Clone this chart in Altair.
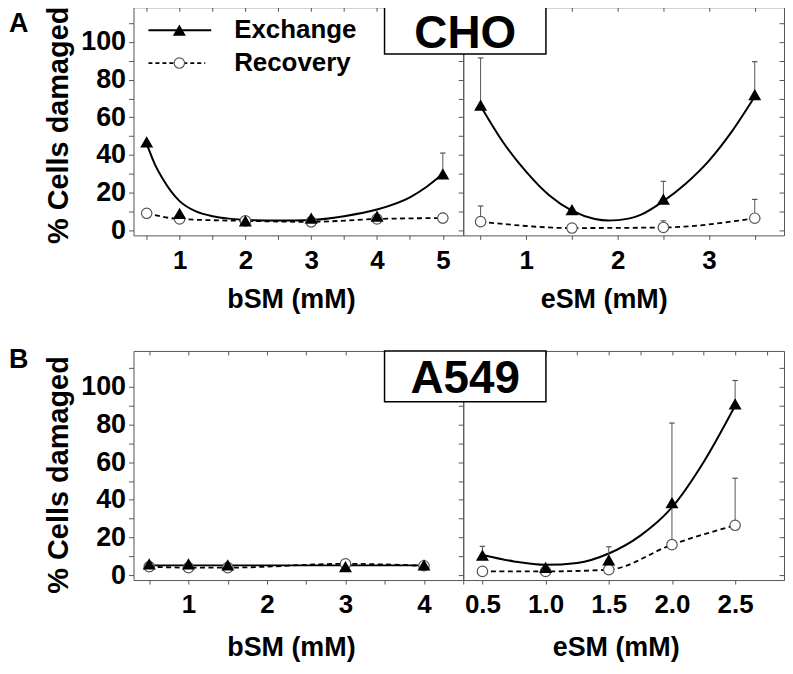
import altair as alt
import pandas as pd

# ---------------- data ----------------
# Panel A, CHO cells, bSM
cho_bsm_x        = [0.5, 1, 2, 3, 4, 5]
cho_bsm_exch     = [47, 9, 5, 6.5, 7.5, 30]
cho_bsm_exch_err = [0, 0, 0, 0, 0, 11]
cho_bsm_rec      = [9, 6, 5, 4.5, 6, 6.5]
cho_bsm_rec_err  = [0, 0, 0, 0, 0, 2.5]
cho_bsm_fit_x    = [0.5, 0.625, 0.75, 1.0, 1.25, 1.5, 1.75, 2.0, 2.5, 3.0, 3.5, 4.0, 4.5, 4.75, 5.0]
cho_bsm_fit_y    = [46, 35, 27, 15.5, 10, 7.5, 6.2, 5.5, 5.2, 5.5, 7.5, 11, 17.5, 23, 30]

# Panel A, CHO cells, eSM
cho_esm_x        = [0.5, 1.5, 2.5, 3.5]
cho_esm_exch     = [66.5, 11, 16.5, 72]
cho_esm_exch_err = [25, 0, 9.5, 17.5]
cho_esm_rec      = [4.6, 1.2, 1.5, 6.4]
cho_esm_rec_err  = [8.3, 0, 3.5, 10]
cho_esm_fit_x    = [0.5, 0.75, 1.0, 1.25, 1.5, 1.75, 1.9, 2.0, 2.25, 2.5, 2.75, 3.0, 3.25, 3.5]
cho_esm_fit_y    = [66, 46.5, 31, 18.6, 10.4, 6, 5.2, 5.4, 8.2, 15.5, 25, 37, 52.5, 71]

# Panel B, A549 cells, bSM
a549_bsm_x        = [0.5, 1, 1.5, 3, 4]
a549_bsm_exch     = [6, 6, 5.5, 4.6, 5.5]
a549_bsm_exch_err = [0, 0, 0, 0, 0]
a549_bsm_rec      = [4.5, 4, 4, 6, 5]
a549_bsm_rec_err  = [0, 0, 0, 0, 0]
a549_bsm_fit_x    = [0.5, 4]
a549_bsm_fit_y    = [5.2, 5.2]

# Panel B, A549 cells, eSM
a549_esm_x        = [0.5, 1.0, 1.5, 2.0, 2.5]
a549_esm_exch     = [10.7, 4.1, 8.1, 38.5, 91]
a549_esm_exch_err = [4.6, 0, 7, 42.3, 12.4]
a549_esm_rec      = [2, 2, 2.9, 16.2, 26.5]
a549_esm_rec_err  = [0, 0, 0, 22, 25]
a549_esm_fit_x    = [0.5, 0.75, 1.0, 1.25, 1.5, 1.75, 2.0, 2.25, 2.5]
a549_esm_fit_y    = [10.7, 7.3, 5.5, 6.5, 11.5, 21, 36, 60, 90]

legend_labels = ["Exchange", "Recovery"]
panel_letters = ["A", "B"]
cell_lines = ["CHO", "A549"]
y_title = "% Cells damaged"
y_ticks = list(range(0, 111, 10))

FONT = "Liberation Sans"
GRAY = "#555555"
ONE = alt.Data(values=[{"k": 1}])


def txt(s, x, y, size, align="left"):
    return alt.Chart(ONE).mark_text(
        text=s, font=FONT, fontWeight="bold", fontSize=size, color="black",
        align=align, baseline="middle"
    ).encode(x=alt.value(x), y=alt.value(y))


def panel(x, exch, exch_err, rec, rec_err, fit_x, fit_y, xdom, ydom, w, h,
          bottom_vals, label_vals, fmt, top_vals, xtitle, title_x, title_pad,
          show_y, title_y, extras):
    pts = pd.DataFrame({"x": x, "exch": exch, "rec": rec})
    rows = []
    for xi, v, e in zip(x, exch, exch_err):
        if e > 0:
            rows.append({"x": xi, "lo": v, "hi": v + e})
    for xi, v, e in zip(x, rec, rec_err):
        if e > 0:
            rows.append({"x": xi, "lo": v, "hi": v + e})
    err = pd.DataFrame(rows, columns=["x", "lo", "hi"])
    fit = pd.DataFrame({"x": fit_x, "y": fit_y})

    xs = alt.Scale(domain=xdom, nice=False, zero=False)
    ys = alt.Scale(domain=ydom, nice=False, zero=False)
    lab = ",".join(str(v) for v in label_vals)
    x_bottom = alt.Axis(
        orient="bottom", values=bottom_vals, format=fmt,
        labelExpr=f"indexof([{lab}], datum.value) >= 0 ? datum.label : ''",
        tickSize=4, labelPadding=8, title=xtitle, titleX=title_x,
        titlePadding=title_pad)
    if show_y:
        y_left = alt.Axis(
            orient="left", values=y_ticks,
            labelExpr="datum.value % 20 === 0 ? datum.label : ''",
            tickSize=5, labelPadding=3, labelFontSize=27,
            title=y_title, titleFontSize=29, titlePadding=7, titleY=title_y)
    else:
        y_left = None
    x_top = alt.Axis(orient="top", values=top_vals, labels=False, title=None,
                     tickSize=4, offset=-4)
    y_right = alt.Axis(orient="right", values=y_ticks, labels=False,
                       title=None, tickSize=5, offset=-5)

    fit_line = alt.Chart(fit).mark_line(
        color="black", strokeWidth=2, interpolate="monotone"
    ).encode(x=alt.X("x:Q", scale=xs, axis=x_bottom),
             y=alt.Y("y:Q", scale=ys, axis=y_left))
    rec_line = alt.Chart(pts).mark_line(
        color="black", strokeWidth=1.8, strokeDash=[5, 3.5], interpolate="monotone"
    ).encode(x=alt.X("x:Q", scale=xs, axis=x_top),
             y=alt.Y("rec:Q", scale=ys, axis=y_right))
    rules = alt.Chart(err).mark_rule(color=GRAY, strokeWidth=1).encode(
        x=alt.X("x:Q", scale=xs, axis=None),
        y=alt.Y("lo:Q", scale=ys, axis=None), y2="hi:Q")
    caps = alt.Chart(err).mark_point(
        shape="stroke", size=30, color=GRAY, strokeWidth=1.2, opacity=1
    ).encode(x=alt.X("x:Q", scale=xs, axis=None),
             y=alt.Y("hi:Q", scale=ys, axis=None))
    rec_pts = alt.Chart(pts).mark_point(
        shape="circle", size=110, filled=True, fill="white", stroke=GRAY,
        strokeWidth=1.2, opacity=1
    ).encode(x=alt.X("x:Q", scale=xs, axis=None),
             y=alt.Y("rec:Q", scale=ys, axis=None))
    exch_pts = alt.Chart(pts).mark_point(
        shape="triangle-up", size=170, filled=True, color="black", opacity=1
    ).encode(x=alt.X("x:Q", scale=xs, axis=None),
             y=alt.Y("exch:Q", scale=ys, axis=None))

    return alt.layer(fit_line, rec_line, rules, caps, rec_pts, exch_pts,
                     *extras).resolve_axis(x="independent", y="independent"
                     ).properties(width=w, height=h)


def box(label, x1, x2, y1, y2):
    rect = alt.Chart(ONE).mark_rect(fill="white", stroke="black",
                                    strokeWidth=1.5).encode(
        x=alt.value(x1), x2=alt.value(x2), y=alt.value(y1), y2=alt.value(y2))
    return [rect, txt(label, (x1 + x2) / 2, (y1 + y2) / 2 + 3, 46, "center")]


legend = [
    alt.Chart(ONE).mark_rule(color="black", strokeWidth=2).encode(
        x=alt.value(15), x2=alt.value(78), y=alt.value(23)),
    alt.Chart(ONE).mark_point(shape="triangle-up", size=170, filled=True,
                              color="black", opacity=1).encode(
        x=alt.value(46), y=alt.value(23)),
    alt.Chart(ONE).mark_rule(color="black", strokeWidth=1.8,
                             strokeDash=[4, 3]).encode(
        x=alt.value(15), x2=alt.value(72), y=alt.value(56)),
    alt.Chart(ONE).mark_point(shape="circle", size=110, filled=True,
                              fill="white", stroke=GRAY, strokeWidth=1.2,
                              opacity=1).encode(
        x=alt.value(46), y=alt.value(56)),
    txt(legend_labels[0], 101, 23, 26),
    txt(legend_labels[1], 101, 56, 26),
]

half = lambda a, b, s=0.5: [round(a + i * s, 2) for i in range(int(round((b - a) / s)) + 1)]

pA1 = panel(cho_bsm_x, cho_bsm_exch, cho_bsm_exch_err, cho_bsm_rec, cho_bsm_rec_err,
            cho_bsm_fit_x, cho_bsm_fit_y, [0.3, 5.31], [-2.7, 118.4], 331, 229,
            half(0.5, 5), [1, 2, 3, 4, 5], "~g", half(0.5, 5), "bSM (mM)", 158, 13,
            True, 118, [txt(panel_letters[0], -125, 17, 27)] + legend)
pA2 = panel(cho_esm_x, cho_esm_exch, cho_esm_exch_err, cho_esm_rec, cho_esm_rec_err,
            cho_esm_fit_x, cho_esm_fit_y, [0.31, 3.82], [-2.7, 118.4], 322, 229,
            half(0.5, 3.5), [1, 2, 3], "~g", half(0.5, 3.5), "eSM (mM)", 141, 13,
            False, 0, box(cell_lines[0], -79, 83, 0, 47))
pB1 = panel(a549_bsm_x, a549_bsm_exch, a549_bsm_exch_err, a549_bsm_rec, a549_bsm_rec_err,
            a549_bsm_fit_x, a549_bsm_fit_y, [0.3, 4.5], [-2.6, 119.1], 331, 230,
            half(0.5, 4.5), [1, 2, 3, 4], "~g", half(0.5, 4.5), "bSM (mM)", 158, 17,
            True, 124, [txt(panel_letters[1], -125, 9, 27)])
pB2 = panel(a549_esm_x, a549_esm_exch, a549_esm_exch_err, a549_esm_rec, a549_esm_rec_err,
            a549_esm_fit_x, a549_esm_fit_y, [0.348, 2.887], [-2.6, 119.1], 322, 230,
            half(0.5, 2.5), [0.5, 1, 1.5, 2, 2.5], ".1f", half(0.5, 2.75, 0.25),
            "eSM (mM)", 153, 17, False, 0, box(cell_lines[1], -79, 83, 0, 51))

chart = alt.concat(
    pA1, pA2, pB1, pB2, columns=2, bounds="flush",
    spacing={"row": 116, "column": 0}
).properties(
    padding={"top": -4, "left": 0, "right": 0, "bottom": 0}
).configure_view(
    stroke=GRAY, strokeWidth=1
).configure_axis(
    domain=False, grid=False, tickColor=GRAY, tickWidth=1, minExtent=0,
    labelFont=FONT, labelFontSize=26, labelFontWeight="bold", labelColor="black",
    titleFont=FONT, titleFontSize=27, titleFontWeight="bold", titleColor="black",
    labelFlush=False, labelOverlap=False
)

chart.save("out.html", embed_options={"renderer": "svg", "actions": False})
